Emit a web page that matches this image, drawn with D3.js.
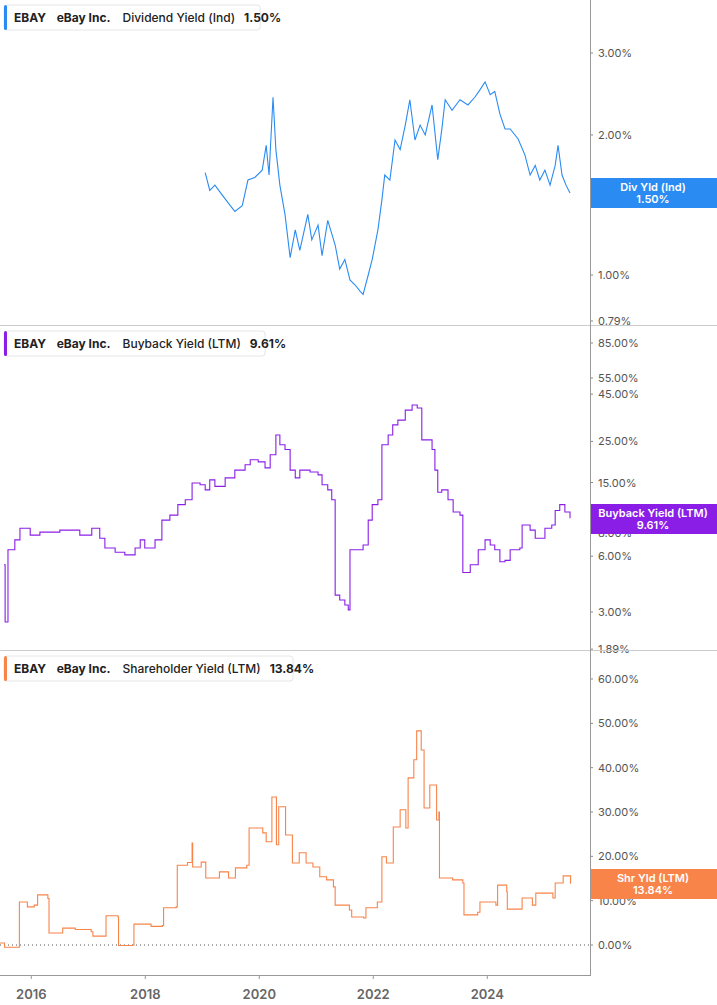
<!DOCTYPE html>
<head>
<meta charset="utf-8">
<script src="https://cdn.jsdelivr.net/npm/d3@7"></script>
<style>
body { margin: 0; background: #fff; font-family: Inter, "Noto Sans", sans-serif; }
</style>
</head>
<body>
<script>
// [year, value %]
var divYield = [[19.06,1.66],[19.14,1.52],[19.23,1.56],[19.35,1.49],[19.50,1.41],[19.58,1.37],[19.71,1.41],[19.81,1.60],[19.93,1.62],[20.06,1.68],[20.13,1.90],[20.18,1.64],[20.25,2.41],[20.30,1.86],[20.37,1.56],[20.46,1.35],[20.55,1.09],[20.64,1.25],[20.72,1.13],[20.86,1.35],[20.93,1.19],[21.04,1.28],[21.11,1.10],[21.21,1.31],[21.34,1.16],[21.42,1.03],[21.51,1.08],[21.60,0.975],[21.69,0.95],[21.78,0.92],[21.83,0.905],[21.92,1.00],[21.99,1.08],[22.09,1.25],[22.16,1.45],[22.21,1.64],[22.30,1.60],[22.39,1.95],[22.48,1.86],[22.57,2.10],[22.65,2.38],[22.74,1.95],[22.83,2.10],[22.92,2.00],[23.04,2.32],[23.14,1.77],[23.21,2.05],[23.27,2.38],[23.39,2.26],[23.53,2.38],[23.67,2.32],[23.79,2.41],[23.88,2.50],[23.97,2.60],[24.06,2.44],[24.14,2.48],[24.23,2.22],[24.32,2.06],[24.41,2.06],[24.55,1.96],[24.67,1.81],[24.76,1.64],[24.85,1.72],[24.93,1.60],[25.02,1.68],[25.11,1.56],[25.20,1.72],[25.25,1.90],[25.32,1.64],[25.39,1.56],[25.46,1.50]];

var buybackYield = [[15.53,5.4],[15.55,2.65],[15.60,6.5],[15.72,7.35],[15.81,8.5],[15.99,7.8],[16.16,8.1],[16.51,8.3],[16.86,7.8],[17.07,8.5],[17.21,7.5],[17.30,6.65],[17.48,6.3],[17.65,6.1],[17.83,6.65],[17.92,7.35],[18.00,6.65],[18.18,7.35],[18.30,9.4],[18.44,10.0],[18.58,11.4],[18.71,12.1],[18.83,14.9],[18.97,14.6],[19.06,13.7],[19.14,15.5],[19.23,14.3],[19.41,15.9],[19.58,17.5],[19.76,18.7],[19.85,19.9],[19.99,19.4],[20.11,18.0],[20.20,21.2],[20.30,27.1],[20.37,24],[20.46,22.6],[20.55,17.5],[20.64,15.9],[20.72,17.5],[20.90,17.1],[21.04,16.5],[21.11,14.6],[21.21,13.7],[21.28,12.1],[21.34,3.7],[21.42,3.48],[21.51,3.27],[21.57,3.08],[21.60,6.5],[21.74,6.5],[21.83,6.9],[21.92,9.4],[21.99,11.4],[22.09,12.1],[22.16,24],[22.27,27.1],[22.35,30.7],[22.44,32.6],[22.57,36.9],[22.69,39.3],[22.78,37.9],[22.86,25.5],[22.97,25.5],[23.04,22.6],[23.09,17.5],[23.14,13.3],[23.21,13.7],[23.32,12.1],[23.41,10.4],[23.53,10.0],[23.58,4.9],[23.71,5.4],[23.85,6.5],[23.97,7.35],[24.06,6.9],[24.14,6.5],[24.23,5.6],[24.32,5.7],[24.41,6.5],[24.58,6.65],[24.62,8.85],[24.76,8.3],[24.85,7.5],[25.02,8.5],[25.14,8.85],[25.20,10.6],[25.28,11.4],[25.37,10.4],[25.46,9.61]];

var shrYield = [[15.46,0.45],[15.54,-0.5],[15.80,-0.5],[15.80,9.7],[15.94,8.6],[16.06,9.0],[16.12,11.3],[16.30,10.5],[16.32,2.7],[16.54,2.7],[16.56,3.8],[16.78,3.5],[17.06,3.0],[17.09,2.0],[17.30,2.0],[17.32,6.6],[17.53,6.3],[17.54,-0.1],[17.79,0],[17.81,4.7],[18.11,4.2],[18.31,4.4],[18.33,8.4],[18.55,8.6],[18.57,18.0],[18.75,18.6],[18.83,23.0],[18.84,17.6],[18.99,18.7],[19.07,15.1],[19.31,16.5],[19.47,15.1],[19.59,17.4],[19.79,18.0],[19.83,26.4],[20.07,25.3],[20.13,23.3],[20.23,33.4],[20.31,22.6],[20.35,31.2],[20.47,24.8],[20.59,18.5],[20.71,20.8],[20.83,18.5],[20.95,17.6],[21.07,15.4],[21.19,14.7],[21.31,13.1],[21.34,9.0],[21.59,7.9],[21.63,6.3],[21.84,6.1],[21.88,8.4],[22.08,9.7],[22.16,19.9],[22.24,18.5],[22.36,26.6],[22.48,30.5],[22.58,26.4],[22.62,37.7],[22.72,41.8],[22.77,48.3],[22.85,44.0],[22.90,30.9],[23.00,36.1],[23.12,28.2],[23.16,30.0],[23.17,15.1],[23.40,14.7],[23.58,14.0],[23.60,6.8],[23.84,7.4],[23.88,9.7],[24.16,9.0],[24.19,13.5],[24.35,12.0],[24.36,8.1],[24.60,8.1],[24.62,10.6],[24.80,9.0],[24.86,11.7],[25.16,10.6],[25.20,14.0],[25.34,15.6],[25.47,13.84]];

var divTicks = [0.79, 1, 2, 3];
var buybackTicks = [1.89, 3, 6, 8, 15, 25, 45, 55, 85];
var shrTicks = [0, 10, 20, 30, 40, 50, 60];
var yearTicks = [2016, 2018, 2020, 2022, 2024];

var W = 717, H = 1005, plotRight = 590;
var svg = d3.select("body").append("svg").attr("width", W).attr("height", H);

var x = d3.scaleLinear().domain([2015.46, 2025.46]).range([0, 570]);

var panels = [
  {data: divYield, ticks: divTicks, top: 0, bottom: 325, color: "#2a8cf2", curve: d3.curveLinear,
   y: d3.scaleLog().domain([0.79, 1, 3]).range([321, 275, 53]),
   title: "Dividend Yield (Ind)", val: "1.50%", tag: "Div Yld (Ind)", tagY: 178},
  {data: buybackYield, ticks: buybackTicks, top: 326, bottom: 650, color: "#8a1ee6", curve: d3.curveStepAfter,
   y: d3.scaleLog().domain([3, 85]).range([612, 343]),
   title: "Buyback Yield (LTM)", val: "9.61%", tag: "Buyback Yield (LTM)", tagY: 504},
  {data: shrYield, ticks: shrTicks, top: 651, bottom: 975, color: "#f8844a", curve: d3.curveStepAfter,
   y: d3.scaleLinear().domain([0, 60]).range([945, 679]),
   title: "Shareholder Yield (LTM)", val: "13.84%", tag: "Shr Yld (LTM)", tagY: 869}
];

panels.forEach(function(p, i) {
  var g = svg.append("g");
  // separator
  if (i > 0) g.append("line").attr("x1", 0).attr("x2", W).attr("y1", p.top - 0.5).attr("y2", p.top - 0.5).attr("stroke", "#ccc");

  if (i == 2) {
    g.append("line").attr("x1", 0).attr("x2", plotRight).attr("y1", p.y(0)).attr("y2", p.y(0))
      .attr("stroke", "#555").attr("stroke-dasharray", "1,3");
  }

  // ticks
  g.selectAll(".tk").data(p.ticks).enter().append("line")
    .attr("x1", plotRight).attr("x2", plotRight + 3)
    .attr("y1", d => p.y(d)).attr("y2", d => p.y(d)).attr("stroke", "#888");
  g.selectAll(".tl").data(p.ticks).enter().append("text")
    .attr("x", 598).attr("y", d => p.y(d) + 4)
    .style("font-size", "11px").style("fill", "#555")
    .text(d => d.toFixed(2) + "%");

  g.append("path").datum(p.data)
    .attr("fill", "none").attr("stroke", p.color).attr("stroke-width", 1.1)
    .attr("d", d3.line().curve(p.curve).x(d => x(2000 + d[0])).y(d => p.y(d[1])));

  // legend box
  var lg = g.append("g").attr("transform", `translate(4,${p.top + 5})`);
  var t = lg.append("text").attr("x", 10).attr("y", 17).style("font-size", "12px").style("font-weight", "700").style("fill", "#222");
  t.append("tspan").text("EBAY");
  t.append("tspan").attr("dx", 12).text("eBay Inc.");
  t.append("tspan").attr("dx", 12).style("font-weight", "500").text(p.title);
  t.append("tspan").attr("dx", 9).text(p.val);
  var bw = t.node().getComputedTextLength() + 22;
  lg.insert("rect", "text").attr("width", bw).attr("height", 25).attr("rx", 3)
    .attr("fill", "#fff").attr("stroke", "#e6e6e6");
  lg.insert("rect", "text").attr("width", 3).attr("height", 25).attr("rx", 1.5).attr("fill", p.color);

  // right value tag
  g.append("rect").attr("x", plotRight).attr("y", p.tagY).attr("width", W - plotRight).attr("height", 30).attr("fill", p.color);
  g.append("text").attr("x", 653).attr("y", p.tagY + 13).attr("text-anchor", "middle")
    .style("font-size", "11px").style("font-weight", "600").style("fill", "#fff").text(p.tag);
  g.append("text").attr("x", 653).attr("y", p.tagY + 25).attr("text-anchor", "middle")
    .style("font-size", "11px").style("font-weight", "600").style("fill", "#fff").text(p.val);
});

// right axis line
svg.append("line").attr("x1", plotRight + 0.5).attr("x2", plotRight + 0.5).attr("y1", 0).attr("y2", 975).attr("stroke", "#999");

// bottom axis
var xa = svg.append("g").attr("transform", "translate(0,975)")
  .call(d3.axisBottom(x).tickValues(yearTicks).tickFormat(d3.format("d")).tickSize(4).tickSizeOuter(0));
xa.select(".domain").attr("d", `M0,0.5H${plotRight + 1}`).attr("stroke", "#999");
xa.selectAll(".tick line").attr("stroke", "#999");
xa.selectAll(".tick text").attr("dy", "1.3em").style("font-size", "13px").style("font-weight", "600")
  .style("fill", "#666").style("font-family", "Inter, sans-serif");
</script>
</body>
</html>
